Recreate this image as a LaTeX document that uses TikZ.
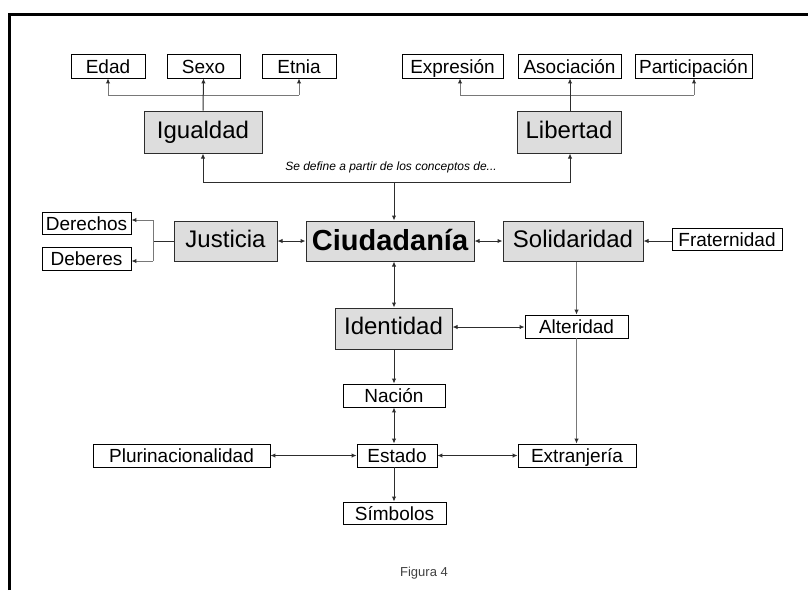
\documentclass[tikz,border=0pt]{standalone}
\usepackage{fontspec}
\setmainfont{Liberation Sans}
\usetikzlibrary{arrows.meta}
\definecolor{boxgrey}{RGB}{221,221,221}
\definecolor{lineDark}{RGB}{45,45,45}
\definecolor{lineGrey}{RGB}{120,120,120}
\begin{document}
\begin{tikzpicture}[x=1pt,y=-1pt,
  smallbox/.style={draw=black,line width=0.9pt,fill=white,inner sep=0pt,font=\fontsize{19}{20}\selectfont,minimum height=23pt,text height=18pt,text depth=4pt},
  bigbox/.style={draw=lineDark,line width=1pt,fill=boxgrey,inner sep=0pt,font=\fontsize{24}{26}\selectfont,minimum height=41pt,text height=18pt,text depth=6pt},
  conn/.style={draw=lineDark,line width=1pt},
  branch/.style={draw=lineGrey,line width=1pt},
  tip/.style={-{Latex[length=5pt,width=4.5pt,color=lineDark]}},
  both/.style={{Latex[length=5pt,width=4.5pt,color=lineDark]}-{Latex[length=5pt,width=4.5pt,color=lineDark]}}
]
\useasboundingbox (0,0) rectangle (808,590);
% frame
\draw[line width=3pt] (9,590) -- (9,14) -- (808,14);

% top row
\node[smallbox,minimum width=74pt,minimum height=24pt] (edad) at (108,66) {Edad};
\node[smallbox,minimum width=73pt,minimum height=24pt] (sexo) at (203.5,66) {Sexo};
\node[smallbox,minimum width=74pt,minimum height=24pt] (etnia) at (299,66) {Etnia};
\node[smallbox,minimum width=101pt,minimum height=24pt] (expr) at (452.5,66) {Expresión};
\node[smallbox,minimum width=103pt,minimum height=24pt] (asoc) at (569.5,66) {Asociación};
\node[smallbox,minimum width=117pt,minimum height=24pt] (part) at (693.5,66) {Participación};

\node[bigbox,minimum width=118pt,minimum height=42pt] (igu) at (203,132) {Igualdad};
\node[bigbox,minimum width=104pt,minimum height=42pt] (lib) at (569,132) {Libertad};

\node[font=\fontsize{12}{14}\selectfont\itshape] (sedef) at (391,167) {Se define a partir de los conceptos de...};

% middle row
\node[bigbox,minimum width=168pt,minimum height=40pt,font=\fontsize{29}{31}\selectfont\bfseries,text height=24pt,text depth=6pt] (ciud) at (390,241) {Ciudadanía};
\node[bigbox,minimum width=103pt,minimum height=40pt] (just) at (225.5,241) {Justicia};
\node[bigbox,minimum width=140pt,minimum height=40pt] (sol) at (573,241) {Solidaridad};
\node[smallbox,minimum width=110pt,minimum height=21pt] (frat) at (727,239) {Fraternidad};
\node[smallbox,minimum width=89pt,minimum height=22pt] (der) at (86.5,223) {Derechos};
\node[smallbox,minimum width=89pt,minimum height=23pt] (deb) at (86.5,258.5) {Deberes};

\node[bigbox,minimum width=117pt,minimum height=41pt] (iden) at (393.5,328.5) {Identidad};
\node[smallbox,minimum width=103pt] (alt) at (576.5,326.5) {Alteridad};
\node[smallbox,minimum width=102pt] (nac) at (394,395.5) {Nación};
\node[smallbox,minimum width=80pt] (est) at (397,455.5) {Estado};
\node[smallbox,minimum width=177pt] (plur) at (181.5,455.5) {Plurinacionalidad};
\node[smallbox,minimum width=118pt] (ext) at (577,455.5) {Extranjería};
\node[smallbox,minimum width=103pt,minimum height=22pt] (sim) at (394.5,513) {Símbolos};

\node[font=\fontsize{13}{15}\selectfont,text=black!75] (fig) at (424,573) {Figura 4};

% coordinates
\coordinate (ib) at (203,95);
\coordinate (ibl) at (108,95);
\coordinate (ibr) at (299,95);
\coordinate (lb) at (570,95);
\coordinate (lbl) at (460,95);
\coordinate (lbr) at (694,95);
\coordinate (dl) at (203,182);
\coordinate (dr) at (570,182);
\coordinate (dm) at (394,182);
\coordinate (jm) at (153,241);
\coordinate (jt) at (153,220);
\coordinate (jb) at (153,261);

% Igualdad branches
\draw[branch] (ibl) -- (ibr);
\draw[branch,tip] (ibl) -- (edad.south -| ibl);
\draw[branch,tip] (ibr) -- (etnia.south -| ibr);
\draw[conn,tip] (igu.north) -- (sexo.south);
% Libertad branches
\draw[branch] (lbl) -- (lbr);
\draw[branch,tip] (lbl) -- (expr.south -| lbl);
\draw[branch,tip] (lbr) -- (part.south -| lbr);
\draw[conn,tip] (lib.north -| lb) -- (asoc.south -| lb);

% definition bracket
\draw[conn,tip] (dl) -- (dr) -- (lib.south -| dr);
\draw[conn,tip] (dl) -- (igu.south);
\draw[conn,tip] (dm) -- (ciud.north -| dm);

% Justicia
\draw[conn] (just.west) -- (jm);
\draw[branch] (jt) -- (jb);
\draw[branch,tip] (jt) -- (der.east |- jt);
\draw[branch,tip] (jb) -- (deb.east |- jb);
\draw[conn,both] (just.east) -- (ciud.west);
\draw[conn,both] (ciud.east) -- (sol.west);
\draw[conn,tip] (frat.west |- sol.east) -- (sol.east);

% Solidaridad column
\draw[branch,tip] (sol.south -| alt.north) -- (alt.north);
\draw[branch,tip] (alt.south) -- (ext.north -| alt.south);

% Central column
\draw[conn,both] (ciud.south -| dm) -- (iden.north -| dm);
\draw[conn,both] (iden.east |- 0,327) -- (alt.west |- 0,327);
\draw[conn,tip] (iden.south -| dm) -- (nac.north -| dm);
\draw[conn,both] (nac.south -| dm) -- (est.north -| dm);
\draw[conn,both] (plur.east) -- (est.west);
\draw[conn,both] (est.east) -- (ext.west);
\draw[conn,tip] (est.south -| dm) -- (sim.north -| dm);
\end{tikzpicture}
\end{document}
